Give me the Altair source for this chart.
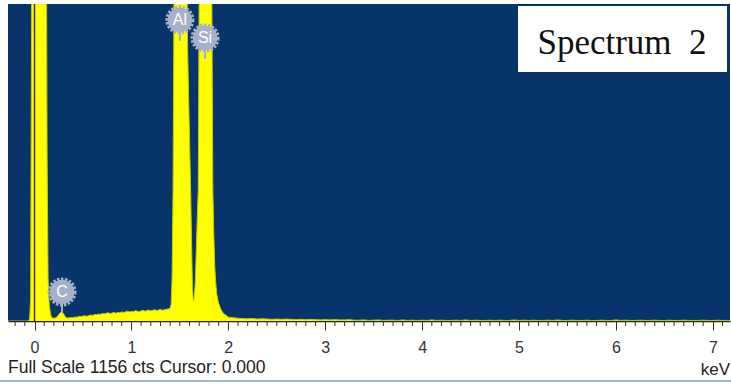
import altair as alt
import pandas as pd

# EDS spectrum: energy (keV) and counts per channel
energy_keV = [
    -0.28, -0.10, -0.06, -0.05, -0.04, -0.03, -0.02, -0.01, 0.00, 0.02,
    0.04, 0.06, 0.08, 0.10, 0.11, 0.12, 0.13, 0.14, 0.15, 0.16,
    0.17, 0.18, 0.20, 0.22, 0.24, 0.26, 0.28, 0.30, 0.32, 0.34,
    0.36, 0.38, 0.40, 0.42, 0.44, 0.46, 0.48, 0.50, 0.52, 0.54,
    0.56, 0.58, 0.60, 0.62, 0.64, 0.66, 0.68, 0.70, 0.72, 0.74,
    0.76, 0.78, 0.80, 0.82, 0.84, 0.86, 0.88, 0.90, 0.92, 0.94,
    0.96, 0.98, 1.00, 1.02, 1.04, 1.06, 1.08, 1.10, 1.12, 1.14,
    1.16, 1.18, 1.20, 1.22, 1.24, 1.26, 1.28, 1.30, 1.32, 1.34,
    1.36, 1.38, 1.39, 1.40, 1.41, 1.42, 1.43, 1.44, 1.45, 1.46,
    1.47, 1.48, 1.49, 1.50, 1.51, 1.52, 1.53, 1.54, 1.55, 1.56,
    1.57, 1.58, 1.59, 1.60, 1.61, 1.62, 1.63, 1.64, 1.65, 1.66,
    1.67, 1.68, 1.69, 1.70, 1.71, 1.72, 1.73, 1.74, 1.75, 1.76,
    1.77, 1.78, 1.79, 1.80, 1.81, 1.82, 1.83, 1.84, 1.85, 1.86,
    1.87, 1.88, 1.89, 1.90, 1.92, 1.94, 1.96, 1.98, 2.00, 2.05,
    2.10, 2.15, 2.20, 2.25, 2.30, 2.35, 2.40, 2.45, 2.50, 2.55,
    2.60, 2.65, 2.70, 2.75, 2.80, 2.85, 2.90, 2.95, 3.00, 3.05,
    3.10, 3.15, 3.20, 3.25, 3.30, 3.35, 3.40, 3.45, 3.50, 3.55,
    3.60, 3.65, 3.70, 3.75, 3.80, 3.85, 3.90, 3.95, 4.00, 4.05,
    4.10, 4.15, 4.20, 4.25, 4.30, 4.35, 4.40, 4.45, 4.50, 4.55,
    4.60, 4.65, 4.70, 4.75, 4.80, 4.85, 4.90, 4.95, 5.00, 5.05,
    5.10, 5.15, 5.20, 5.25, 5.30, 5.35, 5.40, 5.45, 5.50, 5.55,
    5.60, 5.65, 5.70, 5.75, 5.80, 5.85, 5.90, 5.95, 6.00, 6.05,
    6.10, 6.15, 6.20, 6.25, 6.30, 6.35, 6.40, 6.45, 6.50, 6.55,
    6.60, 6.65, 6.70, 6.75, 6.80, 6.85, 6.90, 6.95, 7.00, 7.05,
    7.10, 7.15, 7.18,
]
counts = [
    0, 0, 0, 10, 80, 1100, 2500, 3800, 5000, 6000,
    6200, 6000, 5000, 3500, 2600, 1700, 600, 160, 70, 38,
    18, 12, 10, 12, 18, 28, 35, 26, 14, 11,
    12, 13, 12, 15, 14, 17, 16, 18, 19, 17,
    20, 22, 20, 24, 23, 25, 24, 27, 26, 28,
    30, 27, 29, 31, 28, 32, 30, 33, 31, 34,
    36, 33, 35, 34, 38, 36, 34, 37, 39, 36,
    38, 40, 37, 39, 41, 38, 40, 42, 39, 41,
    43, 44, 45, 48, 60, 160, 480, 1200, 2600, 4200,
    5600, 6300, 6500, 6400, 6000, 5200, 4300, 3400, 2600, 1900,
    1350, 1000, 820, 660, 500, 300, 120, 72, 90, 150,
    260, 380, 480, 1250, 2500, 4000, 5200, 5900, 6100, 6000,
    5600, 4900, 4000, 3000, 2200, 1600, 1180, 480, 320, 200,
    140, 100, 80, 65, 45, 32, 25, 20, 14, 12,
    10, 9, 8, 9, 7, 8, 7, 6, 7, 6,
    7, 6, 5, 6, 5, 6, 5, 4, 5, 4,
    5, 4, 4, 5, 3, 3, 4, 2, 3, 4,
    2, 3, 3, 2, 4, 2, 3, 2, 3, 2,
    4, 2, 3, 2, 2, 3, 2, 4, 2, 3,
    2, 2, 3, 2, 3, 2, 2, 4, 2, 3,
    2, 3, 2, 2, 3, 2, 4, 2, 2, 3,
    2, 2, 3, 2, 2, 3, 2, 2, 4, 2,
    3, 2, 2, 3, 2, 2, 3, 2, 2, 3,
    2, 2, 3, 2, 2, 2, 3, 2, 2, 3,
    2, 2, 2,
]

# Element markers: symbol, line energy and the height the marker sits at
elements = ["C", "Al", "Si"]
element_keV = [0.284, 1.50, 1.76]
element_marker_cts = [106, 1098, 1032]

full_scale_cts = 1156
cursor_keV = 0.0
x_range = [-0.2735, 7.177]
major_ticks = [0, 1, 2, 3, 4, 5, 6, 7]
minor_ticks = [round(i * 0.1, 1) for i in range(-2, 72) if i % 10 != 0]

spectrum = pd.DataFrame({"energy": energy_keV, "counts": counts})
markers = pd.DataFrame({"element": elements, "energy": element_keV,
                        "counts": element_marker_cts})

PLOT_W, PLOT_H = 722, 317
PLOT_BG = "#07346a"
YELLOW = "#ffff00"
BADGE = "#a6b1c8"
INK = "#333333"

x_axis = alt.Axis(
    values=major_ticks,
    format="d",
    tickSize=9,
    tickColor=INK,
    domainColor="#222222",
    domainWidth=1.5,
    labelFont="Liberation Sans",
    labelFontSize=16,
    labelColor=INK,
    labelPadding=9,
    labelOverlap=False,
    labelFlush=False,
    grid=False,
    title=None,
)
x_enc = alt.X("energy:Q", scale=alt.Scale(domain=x_range, nice=False, zero=False),
              axis=x_axis)
y_enc = alt.Y("counts:Q", scale=alt.Scale(domain=[0, full_scale_cts], nice=False),
              axis=None)

area = alt.Chart(spectrum).mark_area(color=YELLOW, clip=True).encode(x=x_enc, y=y_enc)
edge = alt.Chart(spectrum).mark_line(color="#c9c900", strokeWidth=1, clip=True).encode(
    x="energy:Q", y="counts:Q")

# minor ticks every 0.1 keV below the baseline
minor = alt.Chart(pd.DataFrame({"energy": minor_ticks})).mark_rule(
    color=INK, strokeWidth=1).encode(
    x="energy:Q", y=alt.value(PLOT_H), y2=alt.value(PLOT_H + 5))

cursor = alt.Chart(pd.DataFrame({"energy": [cursor_keV]})).mark_rule(
    color="#4a3018", strokeWidth=1.5).encode(x="energy:Q")

stems = alt.Chart(markers).mark_rule(color=BADGE, strokeWidth=2, y2Offset=21).encode(
    x="energy:Q", y="counts:Q", y2="counts:Q")
badge_ring = alt.Chart(markers).mark_point(
    shape="circle", filled=False, size=680, stroke=BADGE, strokeWidth=3,
    strokeDash=[2.5, 1.5], opacity=1).encode(x="energy:Q", y="counts:Q")
badge = alt.Chart(markers).mark_point(
    shape="circle", filled=True, size=600, color=BADGE, opacity=1).encode(
    x="energy:Q", y="counts:Q")
badge_text = alt.Chart(markers).mark_text(
    color="white", font="Liberation Sans", fontSize=16, baseline="middle",
    align="center").encode(x="energy:Q", y="counts:Q", text="element:N")

label_df = pd.DataFrame({"t": ["Spectrum\u00a0 2"]})
title_box = alt.Chart(label_df).mark_rect(color="white").encode(
    x=alt.value(510), x2=alt.value(719), y=alt.value(2), y2=alt.value(68))
title_text = alt.Chart(label_df).mark_text(
    font="Liberation Serif", fontSize=35, color="#111111", align="center",
    baseline="middle").encode(x=alt.value(614), y=alt.value(39), text="t:N")

status_df = pd.DataFrame({"t": [f"Full Scale {full_scale_cts} cts Cursor: {cursor_keV:.3f}"]})
status = alt.Chart(status_df).mark_text(
    font="Liberation Sans", fontSize=17.5, color="#222222", align="left",
    baseline="middle").encode(x=alt.value(0), y=alt.value(364), text="t:N")
unit = alt.Chart(pd.DataFrame({"t": ["keV"]})).mark_text(
    font="Liberation Sans", fontSize=17, color="#222222", align="right",
    baseline="middle").encode(x=alt.value(PLOT_W), y=alt.value(366), text="t:N")
bottom_line = alt.Chart(pd.DataFrame({"t": [0]})).mark_rule(
    color="#9fb4cc", strokeWidth=2).encode(
    x=alt.value(-8), x2=alt.value(PLOT_W + 1), y=alt.value(377))

chart = alt.layer(
    area, edge, minor, cursor, stems, badge_ring, badge, badge_text,
    title_box, title_text, status, unit, bottom_line,
).properties(
    width=PLOT_W, height=PLOT_H,
    padding={"left": 8, "top": 4, "right": 1, "bottom": 63},
    autosize=alt.AutoSizeParams(type="none"),
    background="white",
).configure_view(fill=PLOT_BG, stroke=None)

chart.save("out.html", embed_options={"renderer": "svg", "actions": False})
